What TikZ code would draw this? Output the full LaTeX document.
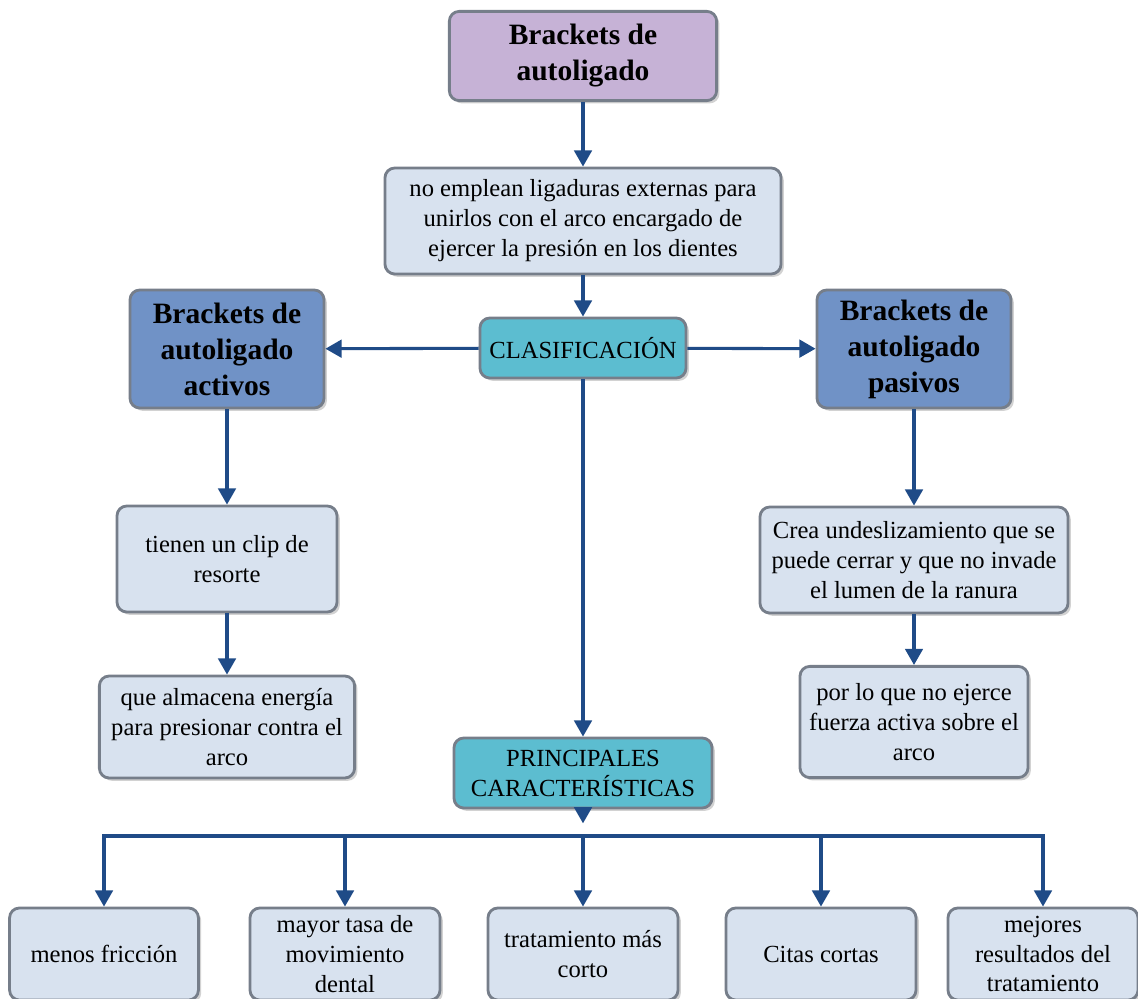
\documentclass[tikz,border=0pt]{standalone}
\usepackage{fontspec}
\setmainfont{Liberation Serif}
\usetikzlibrary{arrows.meta,shadows}

\definecolor{linkblue}{RGB}{31,75,135}
\definecolor{boxedge}{RGB}{118,126,138}
\definecolor{lilac}{RGB}{198,178,214}
\definecolor{steel}{RGB}{112,146,198}
\definecolor{aqua}{RGB}{92,189,208}
\definecolor{pale}{RGB}{216,226,239}

\tikzset{
	box/.style={draw=boxedge, line width=2pt, rounded corners=7pt, align=center, inner sep=2pt,
		drop shadow={shadow xshift=2pt, shadow yshift=-2pt, fill=black!35}},
	textbox/.style={box, fill=pale, font=\fontsize{17.5}{21.3}\selectfont},
	headbox/.style={box, font=\fontsize{21}{25.6}\selectfont\bfseries},
	midbox/.style={box, fill=aqua, font=\fontsize{17.5}{21.3}\selectfont},
	link/.style={draw=linkblue, line width=2.2pt, -{Triangle[length=11.5pt,width=12.5pt]}},
	bus/.style={draw=linkblue, line width=2.2pt}
}

\begin{document}
\begin{tikzpicture}[x=0.025cm, y=-0.025cm]
			%%%%% START %%%%%
			\useasboundingbox (0, 0) rectangle (1138, 999);
			
			\node[headbox, fill=lilac, minimum width=6.68cm, minimum height=2.23cm] (top) at (583, 56) {Brackets de\\autoligado};
			\node[textbox, minimum width=9.9cm, minimum height=2.65cm] (desc) at (583, 221) {no emplean ligaduras externas para\\unirlos con el arco encargado de\\ejercer la presión en los dientes};
			\node[midbox, minimum width=5.15cm, minimum height=1.5cm] (clasif) at (583, 348) {CLASIFICACIÓN};
			
			\node[headbox, fill=steel, minimum width=4.85cm, minimum height=2.95cm] (activos) at (227, 349) {Brackets de\\autoligado\\activos};
			\node[headbox, fill=steel, minimum width=4.85cm, minimum height=2.95cm] (pasivos) at (914, 349) {Brackets de\\autoligado\\pasivos};
			
			\node[textbox, minimum width=5.5cm, minimum height=2.65cm] (clip) at (227, 559) {tienen un clip de\\resorte};
			\node[textbox, minimum width=6.38cm, minimum height=2.55cm] (almacena) at (227, 727) {que almacena energía\\para presionar contra el\\arco};
			
			\node[textbox, minimum width=7.7cm, minimum height=2.65cm] (crea) at (914, 560) {Crea undeslizamiento que se\\puede cerrar y que no invade\\el lumen de la ranura};
			\node[textbox, minimum width=5.7cm, minimum height=2.78cm] (porlo) at (914, 722) {por lo que no ejerce\\fuerza activa sobre el\\arco};
			
			\node[midbox, minimum width=6.45cm, minimum height=1.75cm] (princ) at (583, 773) {PRINCIPALES\\CARACTERÍSTICAS};
			
			\node[textbox, minimum width=4.72cm, minimum height=2.3cm] (friccion) at (104, 954) {menos fricción};
			\node[textbox, minimum width=4.75cm, minimum height=2.3cm] (tasa) at (345, 954) {mayor tasa de\\movimiento\\dental};
			\node[textbox, minimum width=4.75cm, minimum height=2.3cm] (corto) at (583, 954) {tratamiento más\\corto};
			\node[textbox, minimum width=4.75cm, minimum height=2.3cm] (citas) at (821, 954) {Citas cortas};
			\node[textbox, minimum width=4.75cm, minimum height=2.3cm] (mejores) at (1043, 954) {mejores\\resultados del\\tratamiento};
			
			\coordinate (split) at (583, 836);
			
			\draw[link] (top) -- (desc);
			\draw[link] (desc) -- (clasif);
			\draw[link] (clasif) -- (activos);
			\draw[link] (clasif) -- (pasivos);
			\draw[link] (clasif) -- (princ);
			
			\draw[link] (activos) -- (clip);
			\draw[link] (clip) -- (almacena);
			\draw[link] (pasivos) -- (crea);
			\draw[link] (crea) -- (porlo);
			
			\draw[link, shorten >=9pt] (princ) -- (split);
			\draw[link] (split) -| (friccion.north);
			\draw[link] (split) -| (tasa.north);
			\draw[link] (split) -- (corto);
			\draw[link] (split) -| (citas.north);
			\draw[link] (split) -| (mejores.north);
			
			%%%%% END %%%%%
\end{tikzpicture}
\end{document}
